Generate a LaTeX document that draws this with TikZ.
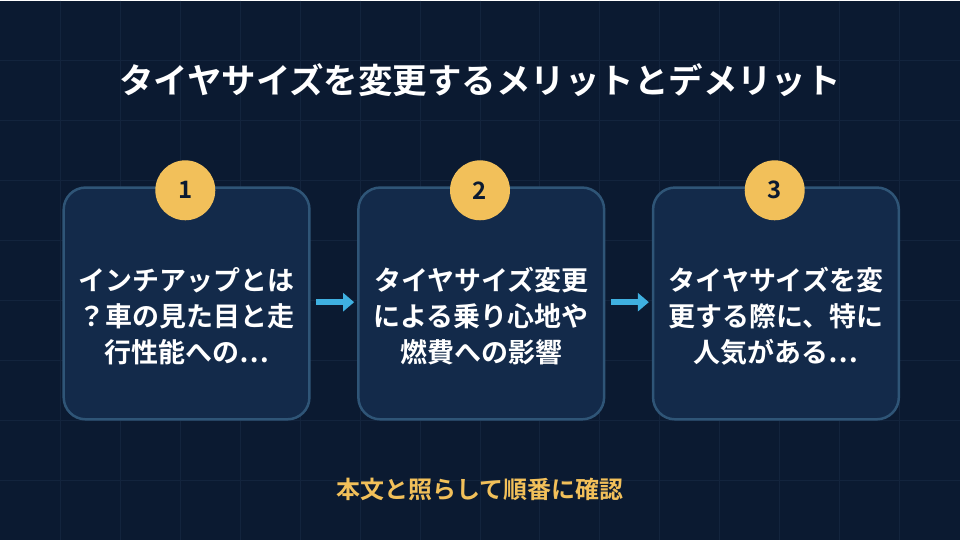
\documentclass[tikz,border=0pt]{standalone}
\usepackage{fontspec}
\newfontfamily\cjk{Noto Sans CJK JP Bold}
\definecolor{bg}{HTML}{0B1A31}
\definecolor{gridc}{HTML}{13243D}
\definecolor{boxf}{HTML}{132A4A}
\definecolor{boxd}{HTML}{2F5577}
\definecolor{gold}{HTML}{F2C05A}
\definecolor{arr}{HTML}{3FB0E0}
\begin{document}
\begin{tikzpicture}[x=1pt,y=-1pt,
 box/.style={draw=boxd,line width=2.5pt,fill=boxf,rounded corners=22pt,minimum width=246pt,minimum height=232pt,anchor=north west},
 txt/.style={text=white,font=\cjk\fontsize{27}{36}\selectfont,align=center,text width=240pt},
 num/.style={circle,fill=gold,minimum size=60pt,inner sep=0pt,text=bg,font=\cjk\fontsize{24}{24}\selectfont},
 ar/.style={arr,line width=6pt,-{Triangle[length=11pt,width=18pt]}}]
\usetikzlibrary{arrows.meta}
\fill[bg] (0,0) rectangle (960,540);
\foreach \i in {60,120,...,900} \draw[gridc,line width=1pt] (\i,0) -- (\i,540);
\foreach \j in {60,120,...,480} \draw[gridc,line width=1pt] (0,\j) -- (960,\j);
\node[text=white,font=\cjk\fontsize{34.5}{40}\selectfont] (t) at (480,80) {タイヤサイズを変更するメリットとデメリット};
\node[box] (b1) at (62,186) {};
\node[box] (b2) at (357,186) {};
\node[box] (b3) at (652,186) {};
\node[txt] at ([yshift=-13pt]b1.center) {インチアップとは\\？車の見た目と走\\行性能への…};
\node[txt] at ([yshift=-13pt]b2.center) {タイヤサイズ変更\\による乗り心地や\\燃費への影響};
\node[txt] at ([yshift=-13pt]b3.center) {タイヤサイズを変\\更する際に、特に\\人気がある…};
\node[num] (n1) at (185,190) {1};
\node[num] (n2) at (480,190) {2};
\node[num] (n3) at (775,190) {3};
\coordinate (a1) at (316,302); \coordinate (a2) at (354,302);
\coordinate (c1) at (611,302); \coordinate (c2) at (649,302);
\draw[ar] (a1) -- (a2);
\draw[ar] (c1) -- (c2);
\node[text=gold,font=\cjk\fontsize{24}{28}\selectfont] (f) at (480,489) {本文と照らして順番に確認};
\end{tikzpicture}
\end{document}
